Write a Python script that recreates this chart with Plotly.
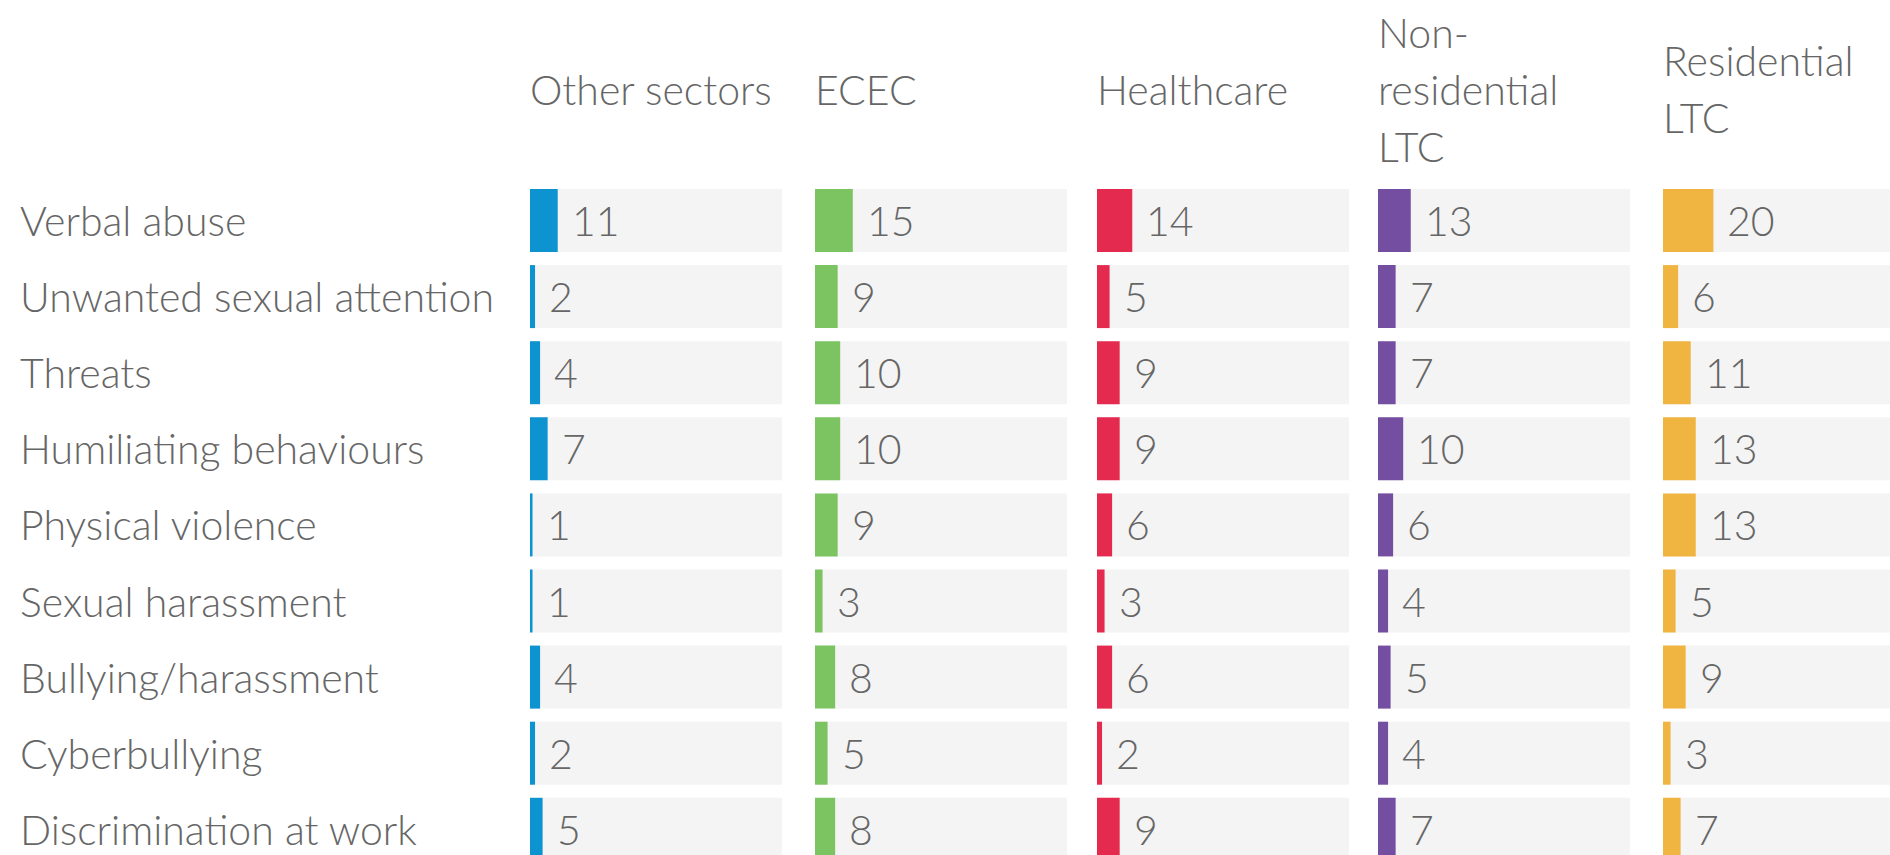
import plotly.graph_objects as go

# ---------------- data ----------------
categories = [
    "Verbal abuse",
    "Unwanted sexual attention",
    "Threats",
    "Humiliating behaviours",
    "Physical violence",
    "Sexual harassment",
    "Bullying/harassment",
    "Cyberbullying",
    "Discrimination at work",
]
sector_headers = [
    "Other sectors",
    "ECEC",
    "Healthcare",
    "Non-<br>residential<br>LTC",
    "Residential<br>LTC",
]
other_sectors = [11, 2, 4, 7, 1, 1, 4, 2, 5]
ecec = [15, 9, 10, 10, 9, 3, 8, 5, 8]
healthcare = [14, 5, 9, 9, 6, 3, 6, 2, 9]
non_residential_ltc = [13, 7, 7, 10, 6, 4, 5, 4, 7]
residential_ltc = [20, 6, 11, 13, 13, 5, 9, 3, 7]
full_scale = [100] * len(categories)

series = [other_sectors, ecec, healthcare, non_residential_ltc, residential_ltc]

# ---------------- style / layout ----------------
W, H = 1890, 855
colors = ["#0d93d0", "#7cc462", "#e52a4f", "#744ea0", "#efb540"]
track_color = "#f4f4f4"
text_color = "#666666"
FONT = "Lato"
FS = 41

panel_left_px = [530, 815, 1097, 1378, 1663]
panel_width_px = 252
row_pitch = 76.1
row1_center = 220.5
bar_frac = 63 / 76.1
header_center_px = 89
header_line_px = 57

top_px = row1_center - row_pitch / 2
y_span_rows = (H - top_px) / row_pitch
y_range = [-0.5 + y_span_rows, -0.5]
y_domain = [0, 1 - top_px / H]

fig = go.Figure()
layout_axes = {}
tfont = dict(family=FONT, size=FS, color=text_color, weight=300)

for i, vals in enumerate(series):
    n = i + 1
    xname = "x" if n == 1 else f"x{n}"
    yname = "y" if n == 1 else f"y{n}"
    left = panel_left_px[i]
    right = min(left + panel_width_px, W)
    xmax = 100 * (right - left) / panel_width_px

    fig.add_trace(go.Bar(
        x=full_scale, y=categories, orientation="h",
        marker=dict(color=track_color, line=dict(width=0)),
        width=bar_frac, xaxis=xname, yaxis=yname, hoverinfo="skip",
    ))
    fig.add_trace(go.Bar(
        x=vals, y=categories, orientation="h",
        marker=dict(color=colors[i], line=dict(width=0)),
        width=bar_frac, xaxis=xname, yaxis=yname,
    ))

    xkey = "xaxis" if n == 1 else f"xaxis{n}"
    ykey = "yaxis" if n == 1 else f"yaxis{n}"
    layout_axes[xkey] = dict(
        domain=[left / W, right / W], range=[0, xmax], anchor=yname,
        showgrid=False, zeroline=False, showticklabels=False, fixedrange=True,
    )
    layout_axes[ykey] = dict(
        domain=y_domain, range=y_range, anchor=xname, type="category",
        categoryorder="array", categoryarray=categories,
        showgrid=False, zeroline=False, showticklabels=False, fixedrange=True,
    )

    # value labels
    for cat, v in zip(categories, vals):
        fig.add_annotation(
            x=v, y=cat, xref=xname, yref=yname,
            text=str(v), showarrow=False, xanchor="left", yanchor="middle",
            xshift=12, font=tfont,
        )

    # column header (one annotation per line for wider line spacing)
    lines = sector_headers[i].split("<br>")
    for j, line in enumerate(lines):
        cy = header_center_px + (j - (len(lines) - 1) / 2) * header_line_px
        fig.add_annotation(
            x=left / W, y=1 - cy / H, xref="paper", yref="paper",
            text=line, showarrow=False, xanchor="left", yanchor="middle",
            align="left", xshift=-2, font=tfont,
        )

# row labels
for cat in categories:
    fig.add_annotation(
        x=18 / W, y=cat, xref="paper", yref="y",
        text=cat, showarrow=False, xanchor="left", yanchor="middle",
        font=tfont,
    )

fig.update_layout(
    width=W, height=H,
    margin=dict(l=0, r=0, t=0, b=0),
    barmode="overlay",
    showlegend=False,
    paper_bgcolor="white",
    plot_bgcolor="white",
    font=dict(family=FONT, size=FS, color=text_color),
    **layout_axes,
)

fig.write_html(
    "out.html",
    config={"displayModeBar": False},
    post_script="document.body.style.margin='0';document.body.style.overflow='hidden';",
)
